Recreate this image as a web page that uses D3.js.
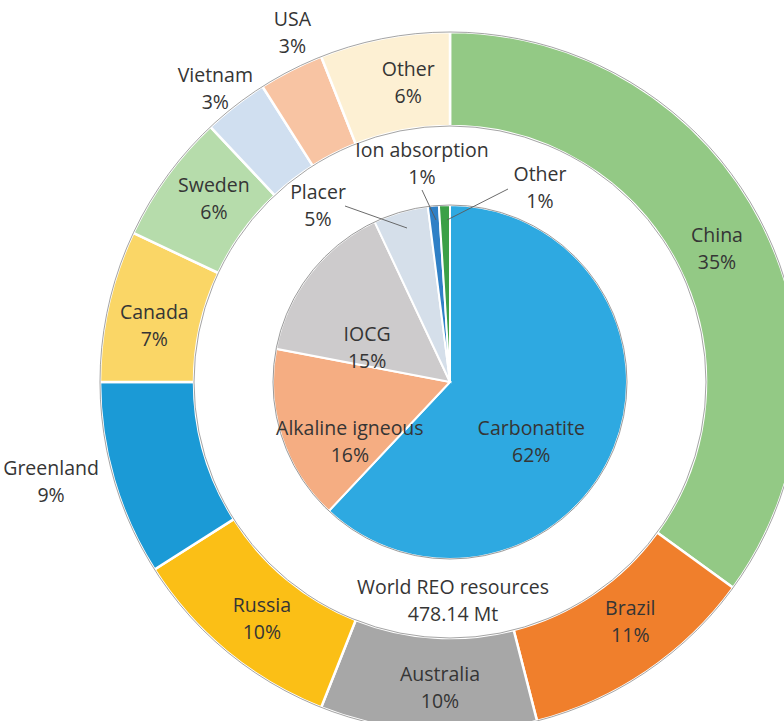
<!DOCTYPE html>
<html>
<head>
<meta charset="utf-8">
<script src="https://cdn.jsdelivr.net/npm/d3@7"></script>
<style>
  html, body { margin: 0; padding: 0; background: #fff; }
  svg { display: block; }
  text { font-family: "Open Sans", "Noto Sans", sans-serif; fill: #353535; }
</style>
</head>
<body>
<svg id="chart" width="784" height="721"></svg>
<script>
// World rare-earth-oxide resources: by country (outer ring) and by deposit type (inner pie)
const countryNames  = ["China", "Brazil", "Australia", "Russia", "Greenland", "Canada", "Sweden", "Vietnam", "USA", "Other"];
const countryShares = [35, 11, 10, 10, 9, 7, 6, 3, 3, 6];
const countryColors = ["#93c985", "#f07f2c", "#a7a7a7", "#fbbf16", "#1b9ad6", "#fad666", "#b6dcab", "#d0dff0", "#f8c4a3", "#fdf0d3"];

const depositNames  = ["Carbonatite", "Alkaline igneous", "IOCG", "Placer", "Ion absorption", "Other"];
const depositShares = [62, 16, 15, 5, 1, 1];
const depositColors = ["#2ea9e1", "#f5ad82", "#cdcbcc", "#d5dfea", "#2f80c6", "#3ba047"];

const centerLines = ["World REO resources", "478.14 Mt"];

// geometry
const cx = 450, cy = 382;
const ringOuter = 350, ringInner = 256, pieR = 177;
const lineGap = 27;

const svg = d3.select("#chart");
const g = svg.append("g").attr("transform", `translate(${cx},${cy})`);

const pie = d3.pie().sort(null).value(d => d.v);

// label nudges (relative to slice centroid) for ring and pie labels
const ringNudge = {
  "China": [-3, 4], "Brazil": [10, -11], "Australia": [9, 3], "Russia": [5, 3],
  "Greenland": [-108, 15], "Canada": [0, 10], "Sweden": [9, -5],
  "Vietnam": [-49, -54], "USA": [-20, -80], "Other": [15, -2]
};
const pieNudge = {
  "Carbonatite": [-1, 27], "Alkaline igneous": [-16, 32], "IOCG": [-13, 20]
};
// labels placed beside thin pie slices, with leader lines
const pieCallouts = {
  "Placer":         { at: [318 - cx, 205 - cy], line: [[345 - cx, 206 - cy], [407 - cx, 228 - cy]] },
  "Ion absorption": { at: [422 - cx, 163 - cy], line: [[422 - cx, 190 - cy], [436 - cx, 220 - cy]] },
  "Other":          { at: [540 - cx, 187 - cy], line: [[508 - cx, 189 - cy], [447 - cx, 220 - cy]] }
};

// ---- outer ring (countries)
const ringData = pie(countryNames.map((n, i) => ({ n, v: countryShares[i], c: countryColors[i] })));
const ringArc = d3.arc().innerRadius(ringInner).outerRadius(ringOuter);
const ringMid = d3.arc().innerRadius((ringInner + ringOuter) / 2).outerRadius((ringInner + ringOuter) / 2);

g.append("g").selectAll("path").data(ringData).join("path")
  .attr("d", ringArc)
  .attr("fill", d => d.data.c)
  .attr("stroke", "#ffffff")
  .attr("stroke-width", 2.5);

[ringOuter, ringInner].forEach(r => {
  g.append("circle").attr("r", r).attr("fill", "none")
    .attr("stroke", "#7d7d7d").attr("stroke-width", 0.7);
});

// ---- inner pie (deposit types)
const pieData = pie(depositNames.map((n, i) => ({ n, v: depositShares[i], c: depositColors[i] })));
const pieArc = d3.arc().innerRadius(0).outerRadius(pieR);

g.append("g").selectAll("path").data(pieData).join("path")
  .attr("d", pieArc)
  .attr("fill", d => d.data.c)
  .attr("stroke", "#ffffff")
  .attr("stroke-width", 2);

g.append("circle").attr("r", pieR).attr("fill", "none")
  .attr("stroke", "#6f6f6f").attr("stroke-width", 0.7);

// ---- labels
function twoLine(sel, x, y, a, b) {
  const t = sel.append("text").attr("text-anchor", "middle").attr("font-size", 19.5);
  t.append("tspan").attr("x", x).attr("y", y - lineGap / 2 + 7).text(a);
  t.append("tspan").attr("x", x).attr("y", y + lineGap / 2 + 7).text(b);
}

const labels = g.append("g");
ringData.forEach(d => {
  const [x, y] = ringMid.centroid(d);
  const [dx, dy] = ringNudge[d.data.n] || [0, 0];
  twoLine(labels, x + dx, y + dy, d.data.n, d.data.v + "%");
});

pieData.forEach(d => {
  const call = pieCallouts[d.data.n];
  if (call) {
    labels.append("line")
      .attr("x1", call.line[0][0]).attr("y1", call.line[0][1])
      .attr("x2", call.line[1][0]).attr("y2", call.line[1][1])
      .attr("stroke", "#5a5a5a").attr("stroke-width", 0.9);
    twoLine(labels, call.at[0], call.at[1], d.data.n, d.data.v + "%");
  } else {
    const [x, y] = pieArc.centroid(d);
    const [dx, dy] = pieNudge[d.data.n] || [0, 0];
    twoLine(labels, x + dx, y + dy, d.data.n, d.data.v + "%");
  }
});

// total in the gap below the pie
twoLine(labels, 453 - cx, 600 - cy, centerLines[0], centerLines[1]);
</script>
</body>
</html>
